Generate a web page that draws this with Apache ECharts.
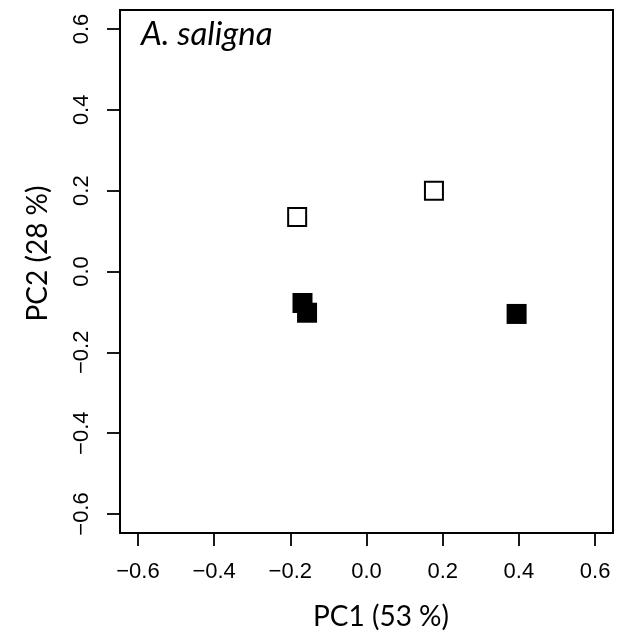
<!DOCTYPE html>
<html><head><meta charset="utf-8">
<script src="https://cdn.jsdelivr.net/npm/echarts@6/dist/echarts.min.js"></script>
<style>html,body{margin:0;padding:0;background:#fff}#c{width:618px;height:639px}</style>
</head><body><div id="c"></div>
<script>
// Data
const openX = [-0.182, 0.177];
const openY = [0.135, 0.200];
const filledX = [-0.168, -0.156, 0.394];
const filledY = [-0.078, -0.102, -0.105];
const xTicks = [-0.6, -0.4, -0.2, 0.0, 0.2, 0.4, 0.6];
const yTicks = [-0.6, -0.4, -0.2, 0.0, 0.2, 0.4, 0.6];
const xTitle = 'PC1 (53 %)';
const yTitle = 'PC2 (28 %)';
const panelLabel = 'A. saligna';

const fmt = v => (v < 0 ? '\u2212' : '') + Math.abs(v).toFixed(1);
const pairs = (xs, ys) => xs.map((x, i) => [x, ys[i]]);

const chart = echarts.init(document.getElementById('c'), null, {renderer: 'canvas'});
const tickFont = {fontFamily: 'Liberation Sans', fontSize: 22, color: '#000'};
const titleFont = {fontFamily: 'Lato', fontSize: 28, color: '#000'};
const axisLine = {show: true, onZero: false, lineStyle: {color: '#000', width: 2}};

chart.setOption({
  animation: false,
  backgroundColor: '#fff',
  grid: {left: 120, top: 10, width: 493, height: 523, show: true, borderColor: '#000', borderWidth: 2, backgroundColor: 'transparent'},
  xAxis: {
    type: 'value', min: -0.647, max: 0.647,
    name: xTitle, nameLocation: 'middle', nameGap: 70,
    nameTextStyle: Object.assign({padding: [0, 0, 0, 29]}, titleFont),
    axisLine: axisLine,
    splitLine: {show: false},
    axisTick: {show: true, inside: false, length: 13, customValues: xTicks, lineStyle: {color: '#000', width: 1.8}},
    axisLabel: Object.assign({customValues: xTicks, formatter: fmt, margin: 28}, tickFont)
  },
  yAxis: {
    type: 'value', min: -0.647, max: 0.647,
    name: yTitle, nameLocation: 'middle', nameGap: 68, nameRotate: 90,
    nameTextStyle: Object.assign({padding: [0, 0, 0, 36]}, titleFont),
    axisLine: axisLine,
    splitLine: {show: false},
    axisTick: {show: true, inside: false, length: 13, customValues: yTicks, lineStyle: {color: '#000', width: 1.8}},
    axisLabel: Object.assign({customValues: yTicks, formatter: fmt, margin: 27, rotate: 90}, tickFont)
  },
  graphic: [{
    type: 'text', left: 141, top: 18, z: 10,
    style: {text: panelLabel, font: 'italic 33px Lato', fill: '#000'}
  }],
  series: [
    {type: 'scatter', data: pairs(openX, openY), symbol: 'rect', symbolSize: 18,
     itemStyle: {color: '#fff', borderColor: '#000', borderWidth: 2, opacity: 1}},
    {type: 'scatter', data: pairs(filledX, filledY), symbol: 'rect', symbolSize: 20,
     itemStyle: {color: '#000', opacity: 1}}
  ]
});
</script></body></html>
